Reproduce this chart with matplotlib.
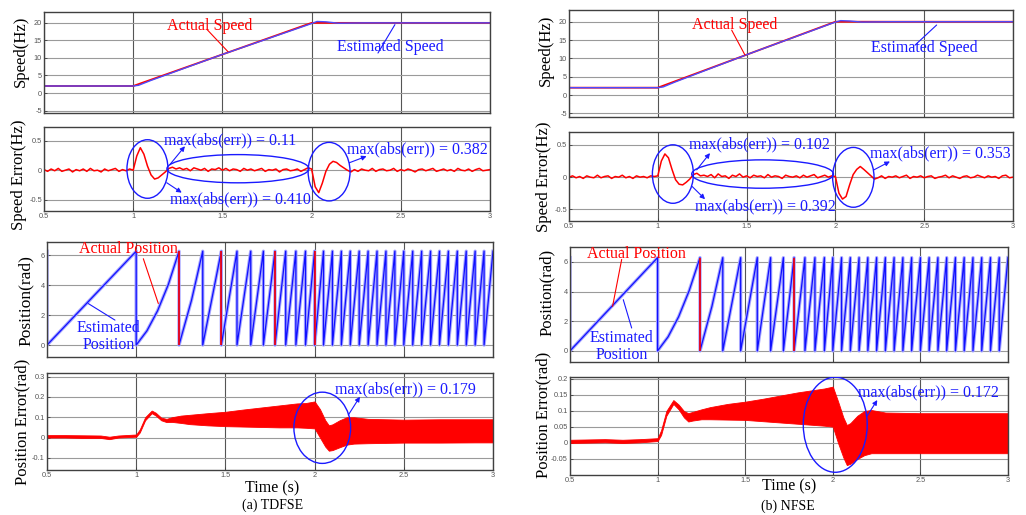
import numpy as np
import matplotlib.pyplot as plt
from matplotlib.patches import Ellipse

W, H = 1026, 515
SERIF = 'Liberation Serif'
SANS = 'Liberation Sans'
RED = '#ff0000'
BLUE = '#1a1aff'
TWO_PI = 6.2832

# ---- speed (Hz) ----
spd_t_a = [0.5, 1.0, 1.03, 1.1, 1.5, 2.0, 2.03, 2.08, 2.15, 2.3, 3.0]
spd_act_a = [2, 2, 2.54, 3.8, 11, 20, 20, 20, 20, 20, 20]
spd_est_a = [2, 2, 2.2, 3.6, 11, 19.8, 20.4, 20.3, 19.9, 20, 20]
spd_t_b = [0.5, 1.0, 1.03, 1.1, 1.5, 2.0, 2.03, 2.08, 2.15, 2.3, 3.0]
spd_act_b = [2, 2, 2.54, 3.8, 11, 20, 20, 20, 20, 20, 20]
spd_est_b = [2, 2, 2.2, 3.6, 11, 19.9, 20.3, 20.2, 19.9, 20, 20]

# ---- speed error (Hz), sampled every 0.02 s from 0.5 to 3.0 ----
err_t = np.linspace(0.5, 3.0, 126)
err_a = [0.01, -0.02, 0.02, -0.01, 0.03, -0.02, 0.00, 0.02, -0.03, 0.01, -0.01, 0.02, -0.02,
         0.03, -0.01, 0.00, -0.03, 0.02, -0.01, 0.01, 0.03, -0.02, 0.01, -0.01, 0.02,
         0.00, 0.24, 0.38, 0.27, 0.07, -0.08, -0.15, -0.13, -0.08, -0.03,
         0.03, 0.05, 0.02, 0.04, 0.01, 0.03, -0.01, 0.04, 0.02, 0.00, 0.03, -0.02, 0.02, 0.01, 0.04,
         0.00, 0.03, -0.01, 0.02, 0.01, -0.02, 0.03, 0.00, 0.02, -0.01, 0.01, 0.03, -0.02, 0.01,
         0.00, 0.02, -0.03, 0.01, 0.02, -0.01, 0.00, 0.02, -0.02, 0.01, 0.04,
         0.02, -0.28, -0.38, -0.22, -0.02, 0.10, 0.15, 0.13, 0.08, 0.04, 0.00, -0.03,
         0.01, -0.02, 0.02, 0.00, -0.01, 0.03, -0.02, 0.01, 0.02, -0.01, 0.00, 0.03, -0.02, 0.01,
         -0.01, 0.02, 0.00, -0.03, 0.01, 0.02, -0.01, 0.01, 0.03, -0.02, 0.00, 0.02, -0.01, 0.01,
         -0.02, 0.03, 0.00, -0.01, 0.02, -0.02, 0.01, 0.03, -0.01, 0.00, 0.01]
err_b = [0.00, 0.02, -0.01, 0.01, -0.02, 0.02, 0.00, -0.01, 0.03, -0.01, 0.01, 0.02, -0.02,
         0.01, 0.00, 0.03, -0.01, 0.01, -0.02, 0.02, 0.00, 0.01, -0.01, 0.02, 0.01,
         0.02, 0.25, 0.36, 0.30, 0.12, -0.04, -0.11, -0.12, -0.08, -0.03,
         0.04, 0.06, 0.02, 0.03, 0.01, 0.04, -0.01, 0.05, 0.01, 0.02, -0.02, 0.03, 0.01, 0.05, 0.00,
         0.02, -0.01, 0.03, 0.01, 0.02, -0.01, 0.04, 0.00, 0.02, 0.01, -0.02, 0.03, 0.01, 0.00,
         0.02, -0.01, 0.03, 0.00, 0.02, 0.04, -0.01, 0.01, 0.03, 0.00, 0.02,
         0.01, -0.25, -0.34, -0.30, -0.12, 0.04, 0.12, 0.165, 0.12, 0.07, 0.02, -0.03,
         -0.01, 0.02, -0.02, 0.01, 0.00, 0.02, -0.01, 0.01, 0.03, -0.02, 0.01, 0.00, 0.02,
         -0.01, 0.01, 0.02, -0.02, 0.00, 0.01, 0.03, -0.01, 0.02, 0.00, -0.02, 0.01, 0.02, -0.01,
         0.00, 0.03, 0.01, -0.01, 0.02, 0.00, 0.01, -0.02, 0.02, 0.03, -0.01, 0.00]

# ---- position (rad): times where the angle wraps from 2*pi to 0 ----
wraps_a = [0.5, 1.0, 1.24, 1.373, 1.477, 1.565, 1.642, 1.713, 1.778, 1.838, 1.895, 1.949,
           2.0, 2.05, 2.1, 2.15, 2.2, 2.25, 2.3, 2.35, 2.4, 2.45, 2.5, 2.55, 2.6, 2.65,
           2.7, 2.75, 2.8, 2.85, 2.9, 2.95, 3.0]
wraps_b = [0.5, 1.0, 1.242, 1.372, 1.474, 1.569, 1.645, 1.718, 1.779, 1.841, 1.898, 1.952,
           2.0, 2.05, 2.1, 2.15, 2.2, 2.25, 2.3, 2.35, 2.4, 2.45, 2.5, 2.55, 2.6, 2.65,
           2.7, 2.75, 2.8, 2.85, 2.9, 2.95, 3.0]
bend_t = [1.06, 1.12, 1.18, 1.31]
bend_v = [0.95, 2.3, 4.05, 3.0]
red_drops_a = [1.24, 1.477, 1.778, 2.0]
red_drops_b = [1.242, 1.779]

# ---- position error (rad): band envelopes ----
pe_t_a = [0.5, 0.6, 0.7, 0.8, 0.85, 0.9, 1.0, 1.02, 1.05, 1.087, 1.11, 1.14, 1.17, 1.2, 1.25,
          1.3, 1.4, 1.5, 1.6, 1.7, 1.8, 1.9, 1.95, 2.0, 2.03, 2.06, 2.08, 2.1, 2.14, 2.18,
          2.22, 2.3, 2.5, 2.7, 2.9, 3.0]
pe_hi_a = [0.012, 0.012, 0.011, 0.010, 0.004, 0.010, 0.015, 0.04, 0.10, 0.133, 0.122, 0.098,
           0.092, 0.100, 0.108, 0.112, 0.120, 0.127, 0.138, 0.148, 0.158, 0.168, 0.170, 0.178,
           0.14, 0.085, 0.060, 0.065, 0.085, 0.100, 0.100, 0.092, 0.088, 0.090, 0.090, 0.090]
pe_lo_a = [0.000, 0.000, -0.002, -0.002, -0.008, 0.000, 0.004, 0.025, 0.085, 0.120, 0.108,
           0.085, 0.076, 0.077, 0.072, 0.066, 0.060, 0.056, 0.054, 0.052, 0.050, 0.050, 0.048,
           0.045, 0.000, -0.045, -0.065, -0.062, -0.048, -0.035, -0.030, -0.028, -0.025,
           -0.025, -0.024, -0.024]
pe_t_b = [0.5, 0.6, 0.7, 0.8, 0.9, 1.0, 1.02, 1.05, 1.09, 1.12, 1.15, 1.175, 1.2, 1.25,
          1.3, 1.4, 1.5, 1.6, 1.7, 1.8, 1.9, 1.95, 2.0, 2.03, 2.06, 2.08, 2.1, 2.14, 2.18,
          2.22, 2.3, 2.5, 2.7, 2.9, 3.0]
pe_hi_b = [0.010, 0.011, 0.012, 0.010, 0.012, 0.015, 0.04, 0.10, 0.134, 0.120, 0.100, 0.093,
           0.097, 0.105, 0.112, 0.122, 0.129, 0.138, 0.148, 0.158, 0.166, 0.170, 0.176,
           0.13, 0.080, 0.056, 0.062, 0.085, 0.100, 0.103, 0.095, 0.093, 0.093, 0.093, 0.093]
pe_lo_b = [0.000, 0.001, 0.002, 0.000, 0.002, 0.006, 0.025, 0.085, 0.122, 0.105, 0.080,
           0.067, 0.070, 0.074, 0.074, 0.073, 0.072, 0.068, 0.064, 0.060, 0.056, 0.054,
           0.051, 0.000, -0.045, -0.069, -0.065, -0.050, -0.038, -0.032, -0.032, -0.032,
           -0.032, -0.032, -0.032]


def rect(l, t, r, b):
    return [l / W, 1 - b / H, (r - l) / W, (b - t) / H]


def setup(ax, ylim, yticks, ylabels, xlabels):
    ax.set_xlim(0.5, 3.0)
    ax.set_ylim(*ylim)
    ax.set_xticks([0.5, 1, 1.5, 2, 2.5, 3])
    ax.set_yticks(yticks)
    ax.set_yticklabels(ylabels)
    ax.set_xticklabels(['0.5', '1', '1.5', '2', '2.5', '3'] if xlabels else [])
    ax.tick_params(direction='in', length=2, width=0.6, labelsize=5.3,
                   labelcolor='#555555', color='#404040', pad=1.5)
    for lab in ax.get_xticklabels() + ax.get_yticklabels():
        lab.set_family(SANS)
    ax.grid(axis='x', color='#555555', lw=0.8)
    ax.grid(axis='y', color='#9a9a9a', lw=0.8)
    ax.set_axisbelow(True)
    for s in ax.spines.values():
        s.set_color('#404040')
        s.set_linewidth(1.0)


def saw_trace(wraps, extra_t, extra_v):
    ts, vs = [wraps[0]], [TWO_PI]
    for a, b in zip(wraps[:-1], wraps[1:]):
        ts.append(a)
        vs.append(0.0)
        for et, ev in zip(extra_t, extra_v):
            if a < et < b:
                ts.append(et)
                vs.append(ev)
        ts.append(b)
        vs.append(TWO_PI)
    return ts, vs


def note(ax, text, xy, color, size=11.5, **kw):
    ax.text(xy[0], xy[1], text, color=color, family=SERIF, fontsize=size,
            ha='center', va='center', **kw)


def leader(ax, p0, p1, color, head=False):
    style = '-|>' if head else '-'
    ax.annotate('', xy=p1, xytext=p0,
                arrowprops=dict(arrowstyle=style, color=color, lw=0.8,
                                mutation_scale=7, shrinkA=0, shrinkB=0))


def ellipse(ax, c, w, h):
    ax.add_patch(Ellipse(c, w, h, fill=False, ec=BLUE, lw=1.0, zorder=5))


def ylabel(fig, x, y, text, size=12):
    fig.text(x / W, 1 - y / H, text, rotation=90, ha='center', va='center',
             family=SERIF, fontsize=size)


def draw_position(ax, wraps, drops):
    pt, pv = saw_trace(wraps, bend_t, bend_v)
    ax.plot(pt, pv, color=RED, lw=1.1)
    ax.plot(pt, pv, color='#a6a6ff', lw=2.4)
    ax.plot(pt, pv, color='#1010ff', lw=0.9)
    ax.vlines(drops, 0, TWO_PI, color=RED, lw=1.2)


fig = plt.figure(figsize=(W / 100, H / 100), dpi=100)

# ================= left column (TDFSE) =================
ax = fig.add_axes(rect(44, 12, 490, 113))
ax.plot(spd_t_a, spd_act_a, color=RED, lw=1.3)
ax.plot(spd_t_a, spd_est_a, color='#4b4bff', lw=1.0)
setup(ax, (-5.7, 23.1), [-5, 0, 5, 10, 15, 20], ['-5', '0', '5', '10', '15', '20'], False)
leader(ax, (1.414, 18.1), (1.531, 11.8), RED)
note(ax, 'Actual Speed', (1.43, 19.2), RED)
leader(ax, (2.372, 11.4), (2.467, 19.5), BLUE)
note(ax, 'Estimated Speed', (2.44, 13.2), BLUE)

ax = fig.add_axes(rect(44, 127, 490, 211))
ax.plot(err_t, err_a, color=RED, lw=1.1)
setup(ax, (-0.69, 0.73), [-0.5, 0, 0.5], ['-0.5', '0', '0.5'], True)
ellipse(ax, (1.080, 0.02), 0.23, 0.99)
ellipse(ax, (1.587, 0.025), 0.796, 0.477)
ellipse(ax, (2.098, -0.025), 0.235, 0.99)
note(ax, 'max(abs(err)) = 0.11', (1.543, 0.505), BLUE)
leader(ax, (1.206, 0.096), (1.29, 0.405), BLUE, True)
note(ax, 'max(abs(err)) = 0.410', (1.603, -0.493), BLUE)
leader(ax, (1.188, -0.212), (1.272, -0.38), BLUE, True)
note(ax, 'max(abs(err)) = 0.382', (2.593, 0.35), BLUE)
leader(ax, (2.211, 0.125), (2.308, 0.236), BLUE, True)

ax = fig.add_axes(rect(47, 242, 493, 357))
draw_position(ax, wraps_a, red_drops_a)
setup(ax, (-0.8, 6.9), [0, 2, 4, 6], ['0', '2', '4', '6'], False)
leader(ax, (1.040, 5.78), (1.124, 2.78), RED)
note(ax, 'Actual Position', (0.954, 6.45), RED)
leader(ax, (0.731, 2.78), (0.881, 1.67), BLUE)
note(ax, 'Estimated\nPosition', (0.845, 0.58), BLUE, linespacing=1.05)

ax = fig.add_axes(rect(47, 373, 493, 470))
ax.fill_between(pe_t_a, pe_lo_a, pe_hi_a, color=RED, lw=0.6, ec=RED)
setup(ax, (-0.16, 0.318), [-0.1, 0, 0.1, 0.2, 0.3], ['-0.1', '0', '0.1', '0.2', '0.3'], True)
ellipse(ax, (2.043, 0.048), 0.318, 0.351)
note(ax, 'max(abs(err)) = 0.179', (2.511, 0.235), BLUE)
leader(ax, (2.189, 0.111), (2.254, 0.201), BLUE, True)

# ================= right column (NFSE) =================
ax = fig.add_axes(rect(569, 10, 1013, 117))
ax.plot(spd_t_b, spd_act_b, color=RED, lw=1.3)
ax.plot(spd_t_b, spd_est_b, color='#4b4bff', lw=1.0)
setup(ax, (-6, 23.2), [-5, 0, 5, 10, 15, 20], ['-5', '0', '5', '10', '15', '20'], False)
leader(ax, (1.416, 17.7), (1.491, 10.9), RED)
note(ax, 'Actual Speed', (1.435, 19.1), RED)
leader(ax, (2.448, 13.6), (2.570, 19.1), BLUE)
note(ax, 'Estimated Speed', (2.499, 12.7), BLUE)

ax = fig.add_axes(rect(569, 132, 1013, 221))
ax.plot(err_t, err_b, color=RED, lw=1.1)
setup(ax, (-0.68, 0.7), [-0.5, 0, 0.5], ['-0.5', '0', '0.5'], True)
ellipse(ax, (1.085, 0.048), 0.231, 0.907)
ellipse(ax, (1.590, 0.048), 0.798, 0.44)
ellipse(ax, (2.101, -0.003), 0.233, 0.928)
note(ax, 'max(abs(err)) = 0.102', (1.570, 0.502), BLUE)
leader(ax, (1.219, 0.113), (1.294, 0.373), BLUE, True)
note(ax, 'max(abs(err)) = 0.392', (1.604, -0.457), BLUE)
leader(ax, (1.194, -0.146), (1.266, -0.342), BLUE, True)
note(ax, 'max(abs(err)) = 0.353', (2.592, 0.373), BLUE)
leader(ax, (2.217, 0.113), (2.307, 0.243), BLUE, True)

ax = fig.add_axes(rect(570, 247, 1008, 362))
draw_position(ax, wraps_b, red_drops_b)
setup(ax, (-0.75, 7.0), [0, 2, 4, 6], ['0', '2', '4', '6'], False)
leader(ax, (0.795, 6.16), (0.743, 3.0), RED)
note(ax, 'Actual Position', (0.881, 6.56), RED)
leader(ax, (0.804, 3.45), (0.852, 1.54), BLUE)
note(ax, 'Estimated\nPosition', (0.795, 0.29), BLUE, linespacing=1.05)

ax = fig.add_axes(rect(570, 377, 1008, 475))
ax.fill_between(pe_t_b, pe_lo_b, pe_hi_b, color=RED, lw=0.6, ec=RED)
setup(ax, (-0.1, 0.206), [-0.05, 0, 0.05, 0.1, 0.15, 0.2],
      ['-0.05', '0', '0.05', '0.1', '0.15', '0.2'], True)
ellipse(ax, (2.014, 0.057), 0.365, 0.297)
note(ax, 'max(abs(err)) = 0.172', (2.547, 0.158), BLUE)
leader(ax, (2.193, 0.082), (2.254, 0.134), BLUE, True)

# ---- axis labels and captions ----
ylabel(fig, 21, 51, 'Speed(Hz)')
ylabel(fig, 19, 175, 'Speed Error(Hz)')
ylabel(fig, 26, 301, 'Position(rad)', 12.5)
ylabel(fig, 22, 422, 'Position Error(rad)')
ylabel(fig, 546, 50, 'Speed(Hz)')
ylabel(fig, 544, 177, 'Speed Error(Hz)')
ylabel(fig, 547, 292, 'Position(rad)')
ylabel(fig, 543, 415, 'Position Error(rad)')

for x, y, s, fs in [(272.5, 488, 'Time (s)', 11.5), (273, 505.5, '(a) TDFSE', 10),
                    (789, 486, 'Time (s)', 11.5), (788, 506.5, '(b) NFSE', 10)]:
    fig.text(x / W, 1 - y / H, s, ha='center', va='center', family=SERIF, fontsize=fs)

fig.savefig('out.png', dpi=100)
